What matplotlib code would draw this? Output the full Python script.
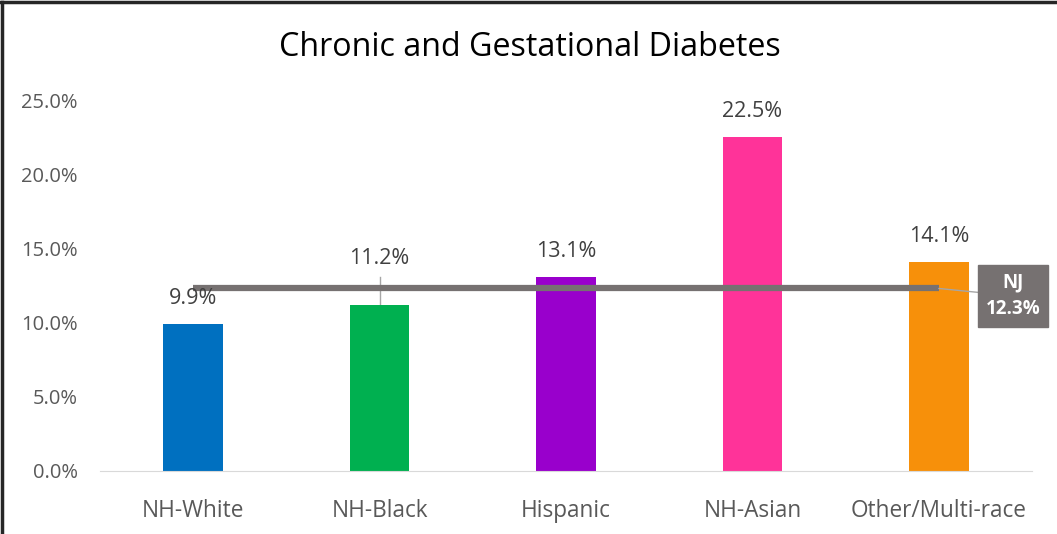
import matplotlib.pyplot as plt
from matplotlib.lines import Line2D

plt.rcParams['font.family'] = ['Open Sans', 'DejaVu Sans']

# ------------------------------------------------------------
# Data
# ------------------------------------------------------------

categories = ["NH-White", "NH-Black", "Hispanic", "NH-Asian", "Other/Multi-race"]
values = [9.9, 11.2, 13.1, 22.5, 14.1]
bar_colors = ["#0070C0", "#00B050", "#9900CC", "#FF3399", "#F7900A"]
nj_value = 12.3
y_ticks = [0, 5, 10, 15, 20, 25]

# ------------------------------------------------------------
# Figure
# ------------------------------------------------------------

fig = plt.figure(figsize=(10.57, 5.34), dpi=100)
ax = fig.add_axes([100 / 1057, 63 / 534, 932 / 1057, 371 / 534])

x = list(range(len(categories)))
ax.bar(x, values, width=0.32, color=bar_colors, zorder=2)

# NJ reference line
ax.plot([x[0], x[-1]], [nj_value, nj_value], color="#767171", lw=4.5,
        solid_capstyle="butt", zorder=3)

# value labels
for i, v in enumerate(values):
    if i == 1:
        ax.text(i, v + 2.4, f"{v:.1f}%", ha="center", va="bottom",
                fontsize=15.5, color="#404040")
        ax.plot([i, i], [v, v + 1.9], color="#A6A6A6", lw=1, zorder=1)
    else:
        ax.text(i, v + 1.0, f"{v:.1f}%", ha="center", va="bottom",
                fontsize=15.5, color="#404040")

# NJ label box
ax.annotate(f"NJ\n{nj_value:.1f}%", xy=(x[-1], nj_value),
            xytext=(x[-1] + 0.40, nj_value - 0.5),
            ha="center", va="center", fontsize=13.5, fontweight="bold",
            color="white", linespacing=1.45,
            bbox=dict(boxstyle="square,pad=0.4", fc="#767171", ec="#767171"),
            arrowprops=dict(arrowstyle="-", color="#A6A6A6", lw=1,
                            shrinkA=0, shrinkB=0),
            annotation_clip=False, zorder=4)

ax.set_xlim(-0.5, len(categories) - 0.5)
ax.set_ylim(0, 25)
ax.set_yticks(y_ticks)
ax.set_yticklabels([f"{t:.1f}%" for t in y_ticks])
ax.set_xticks(x)
ax.set_xticklabels(categories)
ax.tick_params(axis="both", length=0, colors="#595959")
ax.tick_params(axis="y", pad=16, labelsize=14.5)
ax.tick_params(axis="x", pad=20, labelsize=16.3)

for side in ["top", "right", "left"]:
    ax.spines[side].set_visible(False)
ax.spines["bottom"].set_color("#D9D9D9")

fig.text(530 / 1057, 1 - 47 / 534, "Chronic and Gestational Diabetes",
         ha="center", va="center", fontsize=23.2, color="black")

# outer border (left and top)
fig.add_artist(Line2D([0.002, 0.002], [0, 0.996], transform=fig.transFigure,
                      color="#262626", lw=2.5))
fig.add_artist(Line2D([0, 1], [0.996, 0.996], transform=fig.transFigure,
                      color="#262626", lw=2.5))

fig.savefig("out.png", dpi=100)
